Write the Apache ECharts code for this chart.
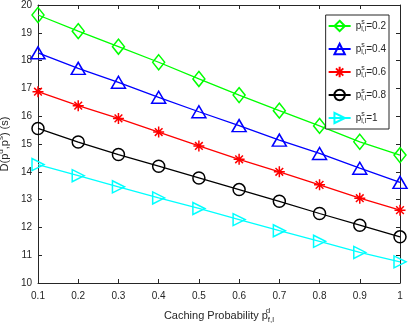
<!DOCTYPE html>
<html><head><meta charset="utf-8">
<script src="https://cdn.jsdelivr.net/npm/echarts@6/dist/echarts.min.js"></script>
<style>html,body{margin:0;padding:0;background:#fff}#c{width:410px;height:328px}</style>
</head><body><div id="c"></div>
<script>
var xValues = [0.1,0.2,0.3,0.4,0.5,0.6,0.7,0.8,0.9,1.0];
var seriesNames = ['0.2','0.4','0.6','0.8','1'];
var ps02 = [19.64,19.06,18.50,17.94,17.34,16.76,16.20,15.65,15.08,14.60];
var ps04 = [18.28,17.72,17.22,16.68,16.16,15.66,15.14,14.66,14.13,13.62];
var ps06 = [16.88,16.38,15.92,15.43,14.93,14.45,14.00,13.53,13.05,12.62];
var ps08 = [15.56,15.07,14.62,14.20,13.78,13.36,12.94,12.50,12.08,11.66];
var ps10 = [14.26,13.86,13.46,13.06,12.68,12.28,11.88,11.50,11.10,10.76];
var yTicks = [10,11,12,13,14,15,16,17,18,19,20];

var font = 'Liberation Sans, Arial, Helvetica, sans-serif';
var txt = '#262626';
var asterisk = 'path://M0,-10 L0,10 M-10,0 L10,0 M-7,-7 L7,7 M-7,7 L7,-7';
var colors = ['#00ff00','#0000ff','#ff0000','#000000','#00ffff'];
var symbols = ['diamond','triangle',asterisk,'circle','triangle'];
var sizes = [[12,15],[14,12],11,12,[12,12]];
var rotates = [0,0,0,0,-90];
var data = [ps02,ps04,ps06,ps08,ps10];

var series = data.map(function(vals,i){
  return {
    name: seriesNames[i],
    type: 'line',
    data: vals.map(function(v,j){return [xValues[j],v];}),
    symbol: symbols[i],
    symbolSize: sizes[i],
    symbolRotate: rotates[i],
    showAllSymbol: true,
    lineStyle:{color:colors[i],width:1.3},
    itemStyle:{color:'rgba(0,0,0,0)',borderColor:colors[i],borderWidth:1.5},
    emphasis:{disabled:true},
    animation:false,
    z: 3
  };
});

var chart = echarts.init(document.getElementById('c'), null, {renderer:'canvas'});
var axisCommon = {
  axisLine:{show:true,onZero:false,lineStyle:{color:txt,width:1}},
  axisTick:{show:true,inside:true,length:4,lineStyle:{color:txt}},
  splitLine:{show:false}
};
chart.setOption({
  backgroundColor:'#fff',
  animation:false,
  textStyle:{fontFamily:font},
  grid:{left:38,right:10,top:5,bottom:45,containLabel:false,outerBoundsMode:'none'},
  xAxis:[
    Object.assign({type:'value',position:'bottom',min:0.1,max:1,interval:0.1,
      axisLabel:{color:txt,fontSize:10,fontFamily:font,margin:8,formatter:function(v){return String(Math.round(v*10)/10);}},
      name:'{n|Caching Probability p}{sup|d}{sub|f,l}',
      nameLocation:'middle',nameGap:24,
      nameTextStyle:{color:txt,fontFamily:font,fontSize:11,rich:{
        n:{fontSize:11,color:txt,fontFamily:font},
        sup:{fontSize:8,color:txt,fontFamily:font,verticalAlign:'top',padding:[0,0,9,0],width:0},
        sub:{fontSize:8,color:txt,fontFamily:font,verticalAlign:'bottom',padding:[6,0,0,0]}
      }}
    },axisCommon),
    Object.assign({type:'value',position:'top',min:0.1,max:1,interval:0.1,axisLabel:{show:false}},axisCommon)
  ],
  yAxis:[
    Object.assign({type:'value',position:'left',min:10,max:20,interval:1,
      axisLabel:{color:txt,fontSize:10,fontFamily:font,margin:6},
      name:'{n|D(p}{sup|d}{n|,p}{sup|s}{n|) (s)}',
      nameLocation:'middle',nameGap:21,nameRotate:90,
      nameTextStyle:{color:txt,fontFamily:font,fontSize:11,rich:{
        n:{fontSize:11,color:txt,fontFamily:font},
        sup:{fontSize:8,color:txt,fontFamily:font,verticalAlign:'top',padding:[0,0,8,0]}
      }}
    },axisCommon),
    Object.assign({type:'value',position:'right',min:10,max:20,interval:1,axisLabel:{show:false}},axisCommon)
  ],
  legend:{
    show:true,
    right:21, top:15,
    orient:'vertical',
    backgroundColor:'#fff',
    borderColor:txt,borderWidth:1,
    padding:[4,3,4,2],
    itemGap:9,
    itemWidth:22,itemHeight:13,
    data:seriesNames,
    formatter:function(n){return '{p|p}{sup|s}{sub|l,l}{p|='+n+'}';},
    textStyle:{color:txt,fontFamily:font,fontSize:10,rich:{
      p:{fontSize:10,color:txt,fontFamily:font},
      sup:{fontSize:7,color:txt,fontFamily:font,verticalAlign:'top',padding:[0,0,7,0],width:0},
      sub:{fontSize:7,color:txt,fontFamily:font,verticalAlign:'bottom',padding:[5,0,0,0]}
    }}
  },
  series:series
});
</script></body></html>
